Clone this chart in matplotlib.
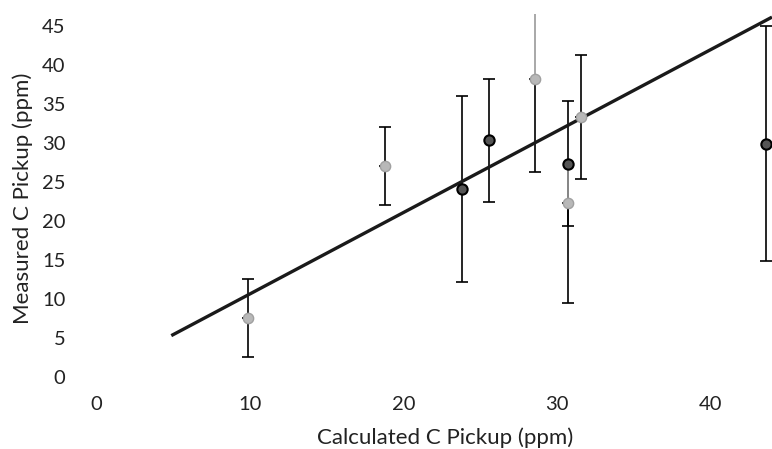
import numpy as np
import matplotlib.pyplot as plt

# values
light_x = [9.9, 18.8, 28.6, 30.7, 31.6]
light_y = [7.6, 27.0, 38.2, 22.3, 33.3]
light_err_lo = [5.0, 5.0, 12.0, 12.8, 8.0]
light_err_hi = [5.0, 5.0, 12.0, 5.0, 8.0]
light_hi_grey = [False, False, True, True, False]

dark_x = [23.8, 25.6, 30.7, 43.6]
dark_y = [24.1, 30.3, 27.3, 29.9]
dark_err = [11.9, 7.9, 8.0, 15.0]

trend_x = [4.9, 44.0]
trend_y = [5.3, 46.1]

x_ticks = [0, 10, 20, 30, 40]
y_ticks = [0, 5, 10, 15, 20, 25, 30, 35, 40, 45]


def main():
    plt.rcParams["font.family"] = ["Lato", "DejaVu Sans"]
    fig = plt.figure(figsize=(7.72, 4.49), dpi=100)
    ax = fig.add_axes([96 / 772, 72 / 449, 676 / 772, 363 / 449])

    bar_kw = dict(fmt="none", elinewidth=1.2, capthick=1.2)

    # dark series error bars
    ax.errorbar(dark_x, dark_y, yerr=dark_err, ecolor="black", capsize=4.5,
                zorder=2, **bar_kw)

    # light series: lower bars black, upper bars black or grey
    ax.errorbar(light_x, light_y, yerr=[light_err_lo, [0] * len(light_x)],
                ecolor="black", capsize=4.5, zorder=2, **bar_kw)
    for x, y, e, grey in zip(light_x, light_y, light_err_hi, light_hi_grey):
        if grey:
            ax.errorbar([x], [y], yerr=[[0], [e]], ecolor="#9a9a9a",
                        capsize=0, zorder=3, **bar_kw)
        else:
            ax.errorbar([x], [y], yerr=[[0], [e]], ecolor="black",
                        capsize=4.5, zorder=3, **bar_kw)

    # trend line
    ax.plot(trend_x, trend_y, color="#1a1a1a", linewidth=2.4, zorder=4,
            solid_capstyle="butt")

    ax.scatter(dark_x, dark_y, s=55, facecolor="#555555", edgecolor="black",
               linewidth=1.5, zorder=5)
    ax.scatter(light_x, light_y, s=55, facecolor="#b8b8b8",
               edgecolor="#a0a0a0", linewidth=1.0, zorder=5)

    ax.set_xlim(0, 44.0)
    ax.set_ylim(0, 46.5)
    ax.set_xticks(x_ticks)
    ax.set_yticks(y_ticks)
    ax.tick_params(axis="both", length=0, labelsize=14.5, colors="#222222")
    ax.tick_params(axis="x", pad=13.5)
    ax.tick_params(axis="y", pad=22)
    for s in ax.spines.values():
        s.set_visible(False)

    ax.set_xlabel("Calculated C Pickup (ppm)", fontsize=16, color="#222222")
    ax.set_ylabel("Measured C Pickup (ppm)", fontsize=16, color="#222222")
    ax.xaxis.set_label_coords((445 - 96) / 676, -(427 - 377) / 363)
    ax.yaxis.set_label_coords(-(96 - 33) / 676, (377 - 198) / 363)

    fig.savefig("out.png", dpi=100)


if __name__ == "__main__":
    main()
